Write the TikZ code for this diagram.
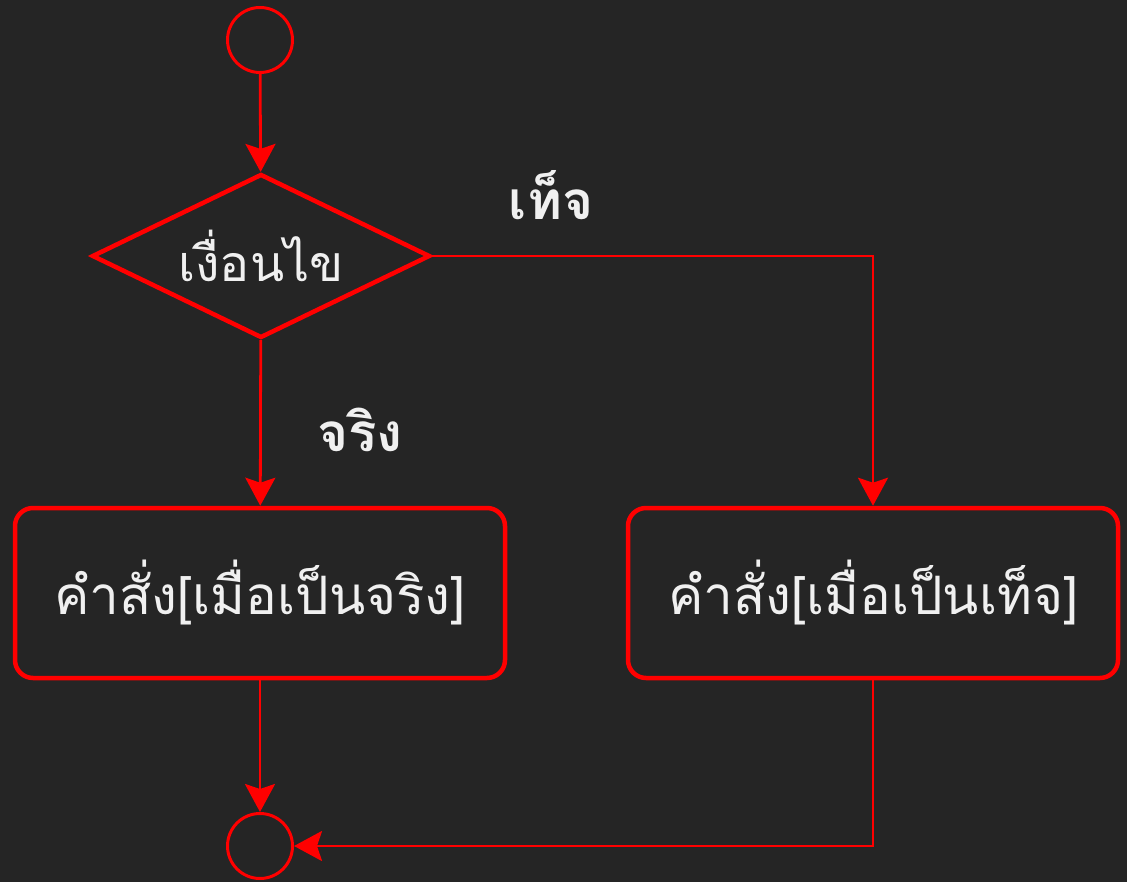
\documentclass[tikz,border=0pt]{standalone}
\usepackage{fontspec}
\usetikzlibrary{shapes.geometric,arrows.meta}
\newfontfamily\thaifont[Script=Thai]{Loma}
\definecolor{bg}{RGB}{37,37,37}
\definecolor{fg}{RGB}{240,240,240}
\definecolor{lr}{RGB}{255,0,0}
\begin{document}
\begin{tikzpicture}[x=1pt,y=-1pt,
  state/.style={circle,draw=lr,line width=3pt,minimum size=65pt,inner sep=0pt},
  cond/.style={diamond,draw=lr,line width=4.5pt,minimum width=338pt,minimum height=164pt,aspect=2.06,inner sep=0pt,text=fg,font=\thaifont\fontsize{50}{56}\selectfont},
  act/.style={rectangle,rounded corners=18pt,draw=lr,line width=4.5pt,minimum width=490pt,minimum height=170pt,text=fg,font=\thaifont\fontsize{53}{60}\selectfont},
  flow/.style={draw=lr,line width=2.8pt,-{Stealth[length=28pt,width=30pt,inset=5pt]}},
  lab/.style={text=fg,font=\thaifont\bfseries\fontsize{53}{58}\selectfont}]
\fill[bg] (0,0) rectangle (1127,882);
\useasboundingbox (0,0) rectangle (1127,882);
\node[state] (s) at (260,40) {};
\node[cond] (c) at (261,256) {เงื่อนไข};
\node[act] (t) at (260,593) {คำสั่ง[เมื่อเป็นจริง]};
\node[act] (f) at (873,593) {คำสั่ง[เมื่อเป็นเท็จ]};
\node[state] (e) at (260,846) {};
\draw[flow] (s) -- (c);
\draw[flow] (c) -- (t);
\draw[flow] (c.east) -| (f.north);
\draw[flow] (t) -- (e);
\draw[flow] (f.south) |- (e.east);
\node[lab] (lt) at (360,430) {จริง};
\node[lab] (lf) at (551,195) {เท็จ};
\end{tikzpicture}
\end{document}
